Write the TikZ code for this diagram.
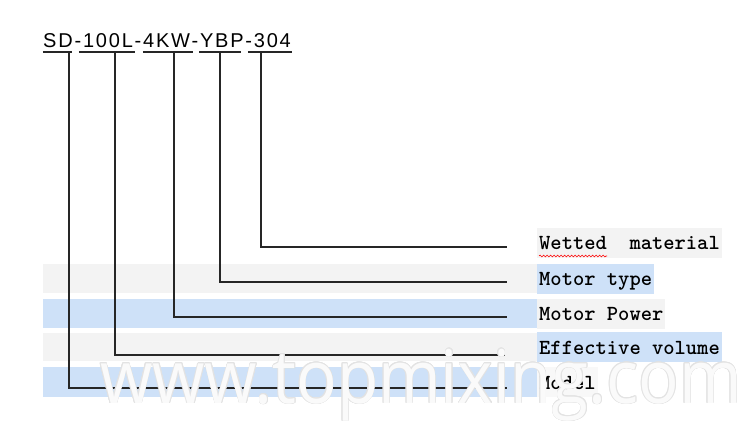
\documentclass[tikz,border=0pt]{standalone}
\usepackage{fontspec}
\usepackage{contour}
\usetikzlibrary{decorations.pathmorphing}
\setmainfont{Liberation Sans}
\newfontfamily\codefont[LetterSpace=9]{Liberation Sans}
\newfontfamily\markfont{Open Sans}
\definecolor{bandgrey}{RGB}{243,243,243}
\definecolor{bandblue}{RGB}{206,225,248}
\contourlength{0.7pt}

\begin{document}
\begin{tikzpicture}[x=1pt,y=-1pt,
    part/.style={inner sep=0pt,minimum height=0pt,text height=0pt,text depth=0pt},
    leader/.style={draw=black!85,line width=1.6pt},
    entry/.style={anchor=west,inner xsep=2pt,inner ysep=0pt,minimum height=30pt,text height=18pt,text depth=4pt,font=\ttfamily\bfseries\fontsize{21.5}{21.5}\selectfont}]
    \useasboundingbox (0,0) rectangle (750,431);
    \fill[white] (0,0) rectangle (750,431);

    \fill[bandgrey] (43,264) rectangle (537,293);
    \fill[bandblue] (43,299) rectangle (537,328);
    \fill[bandgrey] (43,333) rectangle (537,361);
    \fill[bandblue] (43,367) rectangle (537,397);

    \node[anchor=base west,inner sep=0pt,font=\codefont\fontsize{20}{20}\selectfont] (code) at (43,47) {SD-100L-4KW-YBP-304};
    \node[part,minimum width=29pt] (sd) at (57.5,52) {};
    \node[part,minimum width=56pt] (vol) at (107,52) {};
    \node[part,minimum width=50pt] (pow) at (168,52) {};
    \node[part,minimum width=41pt] (typ) at (220,52) {};
    \node[part,minimum width=44pt] (mat) at (270,52) {};
    \foreach \p in {sd,vol,pow,typ,mat}
        \draw[draw=black!85,line width=1.3pt] (\p.west) -- (\p.east);

    \node[entry,fill=bandgrey] (lmat) at (537,242.5) {Wetted\ \ material};
    \node[entry,fill=bandblue] (ltyp) at (537,278.5) {Motor type};
    \node[entry,fill=bandgrey] (lpow) at (537,313.5) {Motor Power};
    \node[entry,fill=bandblue] (lvol) at (537,347) {Effective volume};
    \node[entry,fill=bandgrey!60] (lmod) at (537,382) {Model};
    \draw[red,line width=0.6pt,decorate,decoration={snake,amplitude=0.9pt,segment length=3.5pt}] (539,256) -- (607,256);

    \coordinate (emat) at (507,247);
    \coordinate (etyp) at (507,282);
    \coordinate (epow) at (507,317);
    \coordinate (evol) at (505,355);
    \coordinate (emod) at (507,388);

    \draw[leader] ([xshift=-9pt]mat.center) |- (emat);
    \draw[leader] (typ.center) |- (etyp);
    \draw[leader] ([xshift=6pt]pow.center) |- (epow);
    \draw[leader] ([xshift=8pt]vol.center) |- (evol);
    \draw[leader] ([xshift=11.5pt]sd.center) |- (emod);

    \node[anchor=base west,inner sep=0pt,text opacity=0.85,font=\markfont\fontsize{74}{74}\selectfont] (mark) at (100,403) {\scalebox{0.91}[1]{\contour{gray!22}{\textcolor{white}{www.topmixing.com}}}};
\end{tikzpicture}
\end{document}
